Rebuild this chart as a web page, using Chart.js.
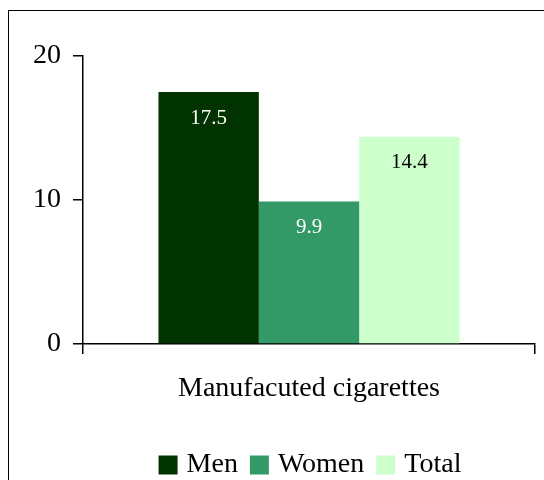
<!DOCTYPE html>
<html>
<head>
<meta charset="utf-8">
<script src="https://cdn.jsdelivr.net/npm/chart.js@4"></script>
<style>
    body { margin: 0; background: #fff; overflow: hidden; }
    #wrap { position: relative; width: 544px; height: 480px; }
    #frame {
        position: absolute; left: 8px; top: 10px;
        width: 600px; height: 600px;
        border: 1.5px solid #000; box-sizing: border-box;
    }
    canvas { position: absolute; left: 0; top: 0; }
</style>
</head>
<body>
<div id="wrap">
    <div id="frame"></div>
    <canvas id="smokeChart" width="544" height="480"></canvas>
</div>
<script>
// Daily manufactured cigarettes by sex
const categories = ['Manufacuted cigarettes'];
const seriesNames = ['Men', 'Women', 'Total'];
const menValues = [17.5];
const womenValues = [9.9];
const totalValues = [14.4];
const yTicks = [0, 10, 20];

const serif = 'Liberation Serif';
Chart.defaults.font.family = serif;
Chart.defaults.color = '#000';

// value labels drawn inside the top of each bar
const barLabels = {
    id: 'barLabels',
    afterDatasetsDraw(chart) {
        const ctx = chart.ctx;
        ctx.save();
        ctx.font = '21px "' + serif + '"';
        ctx.textAlign = 'center';
        ctx.textBaseline = 'middle';
        chart.data.datasets.forEach((ds, i) => {
            chart.getDatasetMeta(i).data.forEach((bar, j) => {
                ctx.fillStyle = ds.labelColor;
                ctx.fillText(ds.data[j].toFixed(1), bar.x, bar.y + 26);
            });
        });
        ctx.restore();
    }
};

// legend row under the axis: square swatch, then name
const swatchLegend = {
    id: 'swatchLegend',
    afterDraw(chart) {
        const ctx = chart.ctx;
        const box = 19, gapText = 9, gapItem = 12, y = 465;
        ctx.save();
        ctx.font = '28px "' + serif + '"';
        ctx.textBaseline = 'middle';
        ctx.textAlign = 'left';
        const items = chart.data.datasets.map(ds => ({
            text: ds.label, color: ds.backgroundColor, w: ctx.measureText(ds.label).width
        }));
        const total = items.reduce((s, it) => s + box + gapText + it.w, 0) + gapItem * (items.length - 1);
        const area = chart.chartArea;
        let x = (area.left + area.right) / 2 - total / 2 + 1;
        items.forEach(it => {
            ctx.fillStyle = it.color;
            ctx.fillRect(x, y - box / 2, box, box);
            x += box + gapText;
            ctx.fillStyle = '#000';
            ctx.fillText(it.text, x, y);
            x += it.w + gapItem;
        });
        ctx.restore();
    }
};

const ctx = document.getElementById('smokeChart');
new Chart(ctx, {
    type: 'bar',
    data: {
        labels: categories,
        datasets: [
            { label: seriesNames[0], data: menValues, backgroundColor: '#003300', labelColor: '#ffffff' },
            { label: seriesNames[1], data: womenValues, backgroundColor: '#339966', labelColor: '#ffffff' },
            { label: seriesNames[2], data: totalValues, backgroundColor: '#ccffcc', labelColor: '#000000' }
        ]
    },
    options: {
        responsive: false,
        animation: false,
        events: [],
        datasets: {
            bar: { categoryPercentage: 0.666, barPercentage: 1.0 }
        },
        layout: { padding: { top: 56, right: 9, left: 0, bottom: 0 } },
        plugins: {
            legend: { display: false },
            tooltip: { enabled: false }
        },
        scales: {
            x: {
                offset: true,
                afterFit(axis) { axis.height = 136; },
                grid: { drawOnChartArea: false, color: '#000', tickLength: 10, lineWidth: 1.5 },
                border: { color: '#000', width: 1.5 },
                ticks: { color: '#000', padding: 18, font: { family: serif, size: 28 } }
            },
            y: {
                min: 0,
                max: 20,
                afterFit(axis) { axis.width = 83; },
                afterBuildTicks(axis) { axis.ticks = yTicks.map(v => ({ value: v })); },
                grid: { drawOnChartArea: false, color: '#000', tickLength: 10, lineWidth: 1.5 },
                border: { color: '#000', width: 1.5 },
                ticks: { color: '#000', padding: 12, font: { family: serif, size: 28 } }
            }
        }
    },
    plugins: [barLabels, swatchLegend]
});
</script>
</body>
</html>
